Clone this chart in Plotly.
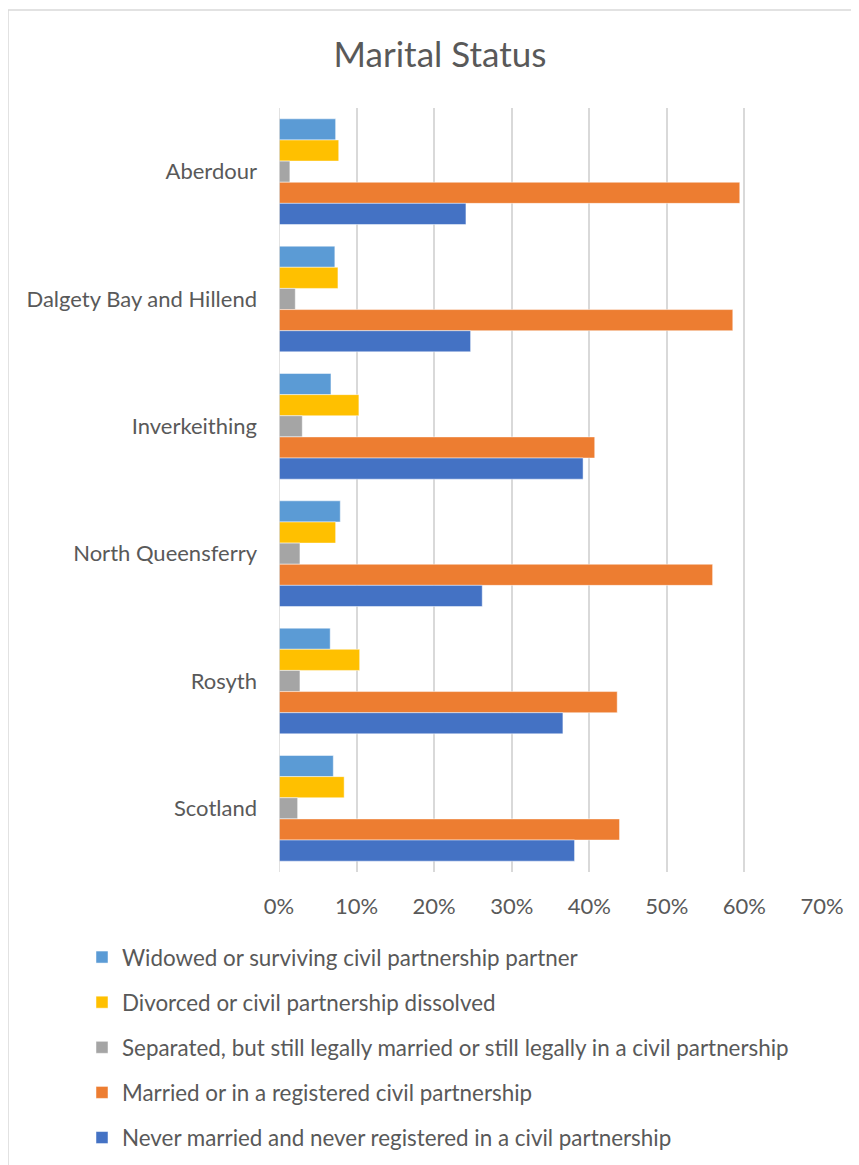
import plotly.graph_objects as go

AREAS = ["Aberdour", "Dalgety Bay and Hillend", "Inverkeithing",
         "North Queensferry", "Rosyth", "Scotland"]

# shares in %
WIDOWED   = [7.3, 7.2, 6.7, 7.9, 6.6, 7.0]
DIVORCED  = [7.7, 7.6, 10.3, 7.3, 10.4, 8.4]
SEPARATED = [1.4, 2.1, 3.0, 2.7, 2.7, 2.4]
MARRIED   = [59.4, 58.5, 40.7, 55.9, 43.6, 43.9]
NEVER     = [24.1, 24.7, 39.2, 26.2, 36.6, 38.1]

X_TICKS = [0, 10, 20, 30, 40, 50, 60, 70]

TEXT = "#595959"
GRID = "#D9D9D9"
FONT = "Lato, 'Open Sans', sans-serif"

# y axis is reversed, so first trace sits on top of each group
series = [
    ("Widowed or surviving civil partnership partner", WIDOWED, "#5B9BD5"),
    ("Divorced or civil partnership dissolved", DIVORCED, "#FFC000"),
    ("Separated, but still legally married or still legally in a civil partnership", SEPARATED, "#A5A5A5"),
    ("Married or in a registered civil partnership", MARRIED, "#ED7D31"),
    ("Never married and never registered in a civil partnership", NEVER, "#4472C4"),
]

fig = go.Figure()
for i, (name, vals, col) in enumerate(series):
    fig.add_trace(go.Bar(
        y=AREAS, x=vals, name=name, orientation="h",
        marker=dict(color=col, line=dict(color="rgba(255,255,255,0.6)", width=0.8)),
        legendgroup=f"g{i}",
    ))

# the page body adds an 8px margin, so work in page pixels minus 8
OFF = 8
W, H = 859 - OFF, 1165 - OFF
L, R, T, B = 279 - OFF, 37, 108 - OFF, 293
pw, ph = W - L - R, H - T - B

def px_x(x):
    return (x - OFF - L) / pw

def px_y(y):
    return (H - B - (y - OFF)) / ph

fig.update_layout(
    width=W, height=H,
    margin=dict(l=L, r=R, t=T, b=B, autoexpand=False),
    paper_bgcolor="white", plot_bgcolor="white",
    barmode="group", bargap=0.17, bargroupgap=0,
    font=dict(family=FONT, color=TEXT, size=22),
    title=dict(text="Marital Status", x=(440 - OFF) / W, xanchor="center",
               y=1 - (55 - OFF) / H, yanchor="middle",
               font=dict(size=35, color=TEXT, family=FONT)),
    xaxis=dict(
        range=[0, 70], tickvals=X_TICKS,
        ticktext=[f"{t}%" for t in X_TICKS],
        showgrid=True, gridcolor=GRID, gridwidth=1.5,
        zeroline=False, showline=False, ticks="",
        ticklabelstandoff=19,
        tickfont=dict(size=22, color=TEXT),
    ),
    yaxis=dict(
        autorange="reversed", showgrid=False, zeroline=False,
        showline=False, ticks="", ticklabelstandoff=21,
        tickfont=dict(size=22, color=TEXT),
    ),
    legend=dict(
        traceorder="grouped", tracegroupgap=13,
        x=px_x(82), xanchor="left", y=px_y(936), yanchor="top",
        font=dict(size=22.4, color=TEXT), itemwidth=30,
        bgcolor="rgba(0,0,0,0)",
    ),
    showlegend=True,
)

# value axis line at 0%
fig.add_shape(type="line", xref="x", yref="paper", x0=0, x1=0, y0=0, y1=1,
              line=dict(color=GRID, width=1.5), layer="above")

# chart border (Excel chart area)
fig.add_shape(type="rect", xref="paper", yref="paper",
              x0=px_x(8), x1=px_x(875), y0=px_y(1180), y1=px_y(10),
              line=dict(color=GRID, width=1.5), layer="below")

fig.write_html("out.html")
